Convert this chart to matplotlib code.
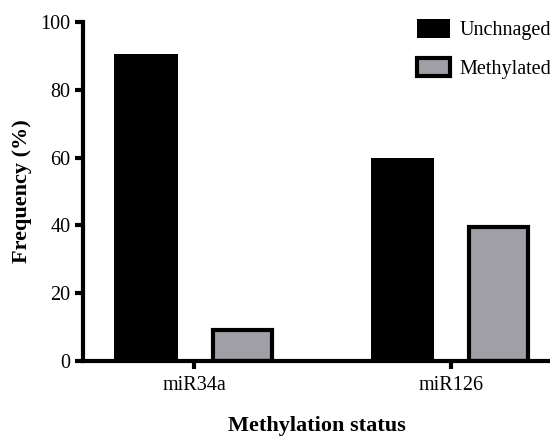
import matplotlib
matplotlib.use("Agg")
import matplotlib.pyplot as plt
import numpy as np

plt.rcParams['font.family'] = ['Liberation Serif', 'DejaVu Serif']

groups = ['miR34a', 'miR126']
unchanged = [90.5, 60]
methylated = [9, 39.5]
yticks = [0, 20, 40, 60, 80, 100]

fig = plt.figure(figsize=(5.5, 4.36), dpi=100)
ax = fig.add_axes([0.151, 0.172, 0.849, 0.7775])

x = np.arange(len(groups))
ax.bar(x - 0.188, unchanged, width=0.247, color='black', edgecolor='black',
       linewidth=0, label='Unchnaged')
ax.bar(x + 0.187, methylated, width=0.228, color='#a09fa5', edgecolor='black',
       linewidth=3, label='Methylated')

ax.set_xlim(-0.434, 1.387)
ax.set_ylim(0, 100)
ax.set_yticks(yticks)
ax.set_xticks(x)
ax.set_xticklabels(groups)

for s in ['top', 'right']:
    ax.spines[s].set_visible(False)
for s in ['left', 'bottom']:
    ax.spines[s].set_linewidth(3)
ax.tick_params(width=3, length=6, labelsize=14.5, colors='black', pad=3)
ax.tick_params(axis='x', pad=5)

ax.set_ylabel('Frequency (%)', fontsize=16, fontweight='bold', labelpad=6)
ax.set_xlabel('Methylation status', fontsize=16, fontweight='bold', labelpad=15)

leg = ax.legend(loc='upper left', bbox_to_anchor=(0.758, 0.956),
                bbox_transform=fig.transFigure, frameon=False, fontsize=14.5,
                handlelength=1.65, handleheight=1.05, handletextpad=0.45,
                labelspacing=0.85, borderpad=0, borderaxespad=0)

fig.savefig('out.png', dpi=100)
